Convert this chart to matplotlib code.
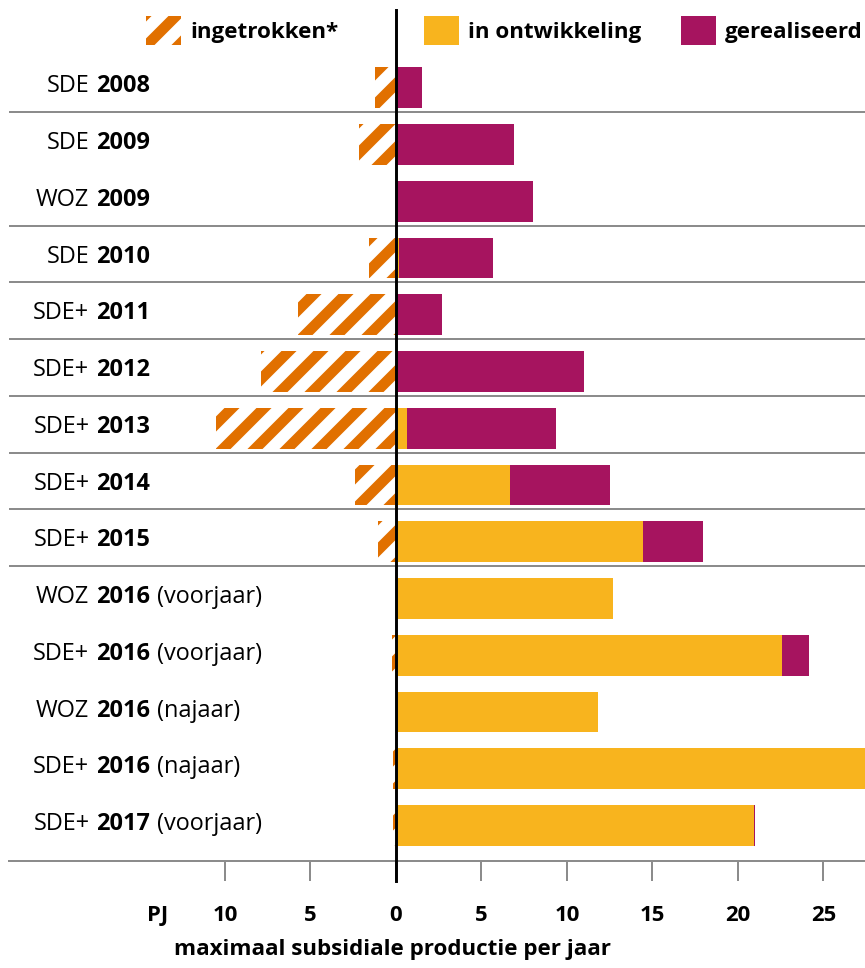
import matplotlib
matplotlib.use('Agg')
import matplotlib.pyplot as plt
from matplotlib.patches import Patch
from matplotlib.transforms import blended_transform_factory

# rows from top to bottom
programs = ['SDE', 'SDE', 'WOZ', 'SDE', 'SDE+', 'SDE+', 'SDE+', 'SDE+', 'SDE+',
            'WOZ', 'SDE+', 'WOZ', 'SDE+', 'SDE+']
years = ['2008', '2009', '2009', '2010', '2011', '2012', '2013', '2014', '2015',
         '2016', '2016', '2016', '2016', '2017']
rounds = ['', '', '', '', '', '', '', '', '',
          'voorjaar', 'voorjaar', 'najaar', 'najaar', 'voorjaar']

# PJ per jaar
ingetrokken = [1.23, 2.16, 0, 1.56, 5.75, 7.9, 10.53, 2.38, 1.07, 0, 0.25, 0, 0.15, 0.15]
in_ontwikkeling = [0, 0, 0, 0.15, 0, 0, 0.62, 6.65, 14.45, 12.7, 22.6, 11.8, 28.5, 20.95]
gerealiseerd = [1.52, 6.9, 8.0, 5.52, 2.71, 11.0, 8.72, 5.88, 3.5, 0, 1.55, 0, 0, 0.06]

separators = [0, 2, 3, 4, 5, 6, 7, 8]   # line below these rows
xticks = [-10, -5, 0, 5, 10, 15, 20, 25]

ORANGE = '#E17000'
YELLOW = '#F8B41E'
PURPLE = '#A6145F'
GREY = '#8C8C8C'

DPI = 192
W, H = 865, 968
plt.rcParams['font.family'] = ['Open Sans', 'DejaVu Sans']
plt.rcParams['font.size'] = 8.8
plt.rcParams['hatch.linewidth'] = 4.0

fig = plt.figure(figsize=(W / DPI, H / DPI), dpi=DPI)
ax = fig.add_axes([9 / W, 1 - 860.7 / H, 856 / W, 850.7 / H])

rows = list(range(len(years)))
bar_h = 0.72
ax.barh(rows, [-v for v in ingetrokken], height=bar_h, facecolor='white',
        edgecolor=ORANGE, linewidth=0, hatch='//')
ax.barh(rows, in_ontwikkeling, height=bar_h, color=YELLOW, linewidth=0)
ax.barh(rows, gerealiseerd, left=in_ontwikkeling, height=bar_h, color=PURPLE, linewidth=0)

ax.set_xlim(-22.63, 27.43)
ax.set_ylim(13.62, -1.37)

for i in separators:
    ax.axhline(i + 0.43, color=GREY, lw=0.75)
ax.axvline(0, ymin=-20 / 850.7, ymax=1, color='black', lw=1.1, clip_on=False, zorder=5)

for s in ['top', 'right', 'left']:
    ax.spines[s].set_visible(False)
ax.spines['bottom'].set_color(GREY)
ax.spines['bottom'].set_linewidth(0.75)
ax.set_yticks([])
ax.set_xticks(xticks, [str(abs(t)) for t in xticks], fontweight='bold', fontsize=8.3)
ax.tick_params(axis='x', length=7.5, width=0.75, color=GREY, pad=9)

# row labels: program + bold year + optional round
lab_tr = blended_transform_factory(ax.transAxes, ax.transData)
for i in rows:
    y = i + 0.08
    yr = ax.text((150 - 9) / 856, y, years[i], transform=lab_tr, ha='right',
                 va='baseline', fontweight='bold')
    ax.annotate(programs[i], xy=(0, y), xycoords=(yr, 'data'), xytext=(-2.5, 0),
                textcoords='offset points', ha='right', va='baseline')
    if rounds[i]:
        ax.annotate('(' + rounds[i] + ')', xy=(1, y), xycoords=(yr, 'data'),
                    xytext=(2.6, 0), textcoords='offset points', ha='left', va='baseline')

fig.text(157.5 / W, 1 - 915 / H, 'PJ', ha='center', va='center', fontweight='bold',
         fontsize=8.3)
fig.text(393 / W, 1 - 950 / H, 'maximaal subsidiale productie per jaar', ha='center',
         va='center', fontweight='bold', fontsize=8.4)

# legend, one entry at a time so each box sits where it should
legend_items = [
    ('ingetrokken*', dict(facecolor='white', edgecolor=ORANGE, linewidth=0, hatch='//'), 146),
    ('in ontwikkeling', dict(facecolor=YELLOW, linewidth=0), 424),
    ('gerealiseerd', dict(facecolor=PURPLE, linewidth=0), 681),
]
for label, style, x_px in legend_items:
    fig.legend(handles=[Patch(label=label, **style)], loc='center left',
               bbox_to_anchor=(x_px / W, 1 - 30.5 / H), frameon=False, borderpad=0,
               borderaxespad=0, handlelength=1.56, handleheight=1.56,
               handletextpad=0.4, prop={'weight': 'bold', 'size': 8.4})

fig.savefig('out.png', dpi=DPI)
